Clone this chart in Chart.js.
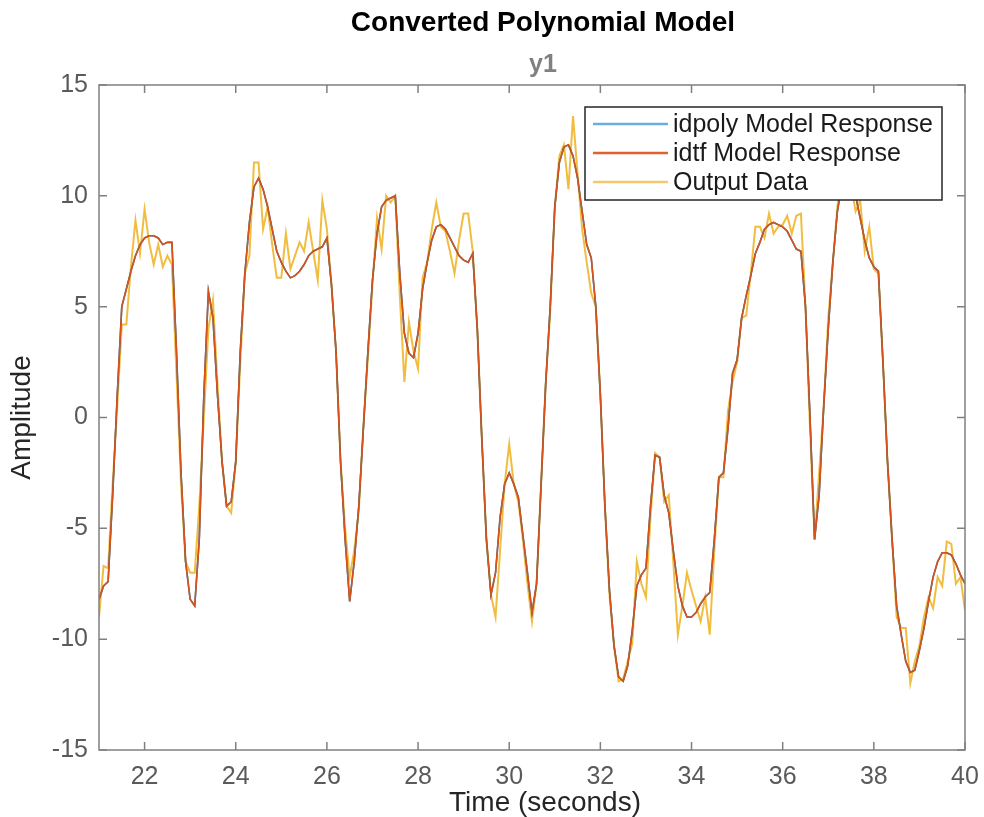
<!DOCTYPE html>
<html>
<head>
<meta charset="utf-8">
<title>Converted Polynomial Model</title>
<script src="https://cdn.jsdelivr.net/npm/chart.js@4.4.1/dist/chart.umd.min.js"></script>
<style>
  html, body { margin: 0; padding: 0; background: #fff; }
</style>
</head>
<body>
<canvas id="compare-chart" width="984" height="817"></canvas>
<script>
// sample grid of the measured data (seconds)
const tStart = 21;
const sampleTime = 0.1;

// measured output, one row per second (21.x ... 39.x), then 40.0
const outputData = [
  -9.0, -6.7, -6.8, -3.0, 0.5, 4.2, 4.2, 6.8, 8.9, 7.4,
  9.4, 7.9, 6.9, 7.8, 6.8, 7.3, 6.9, 2.0, -3.0, -6.5,
  -7.0, -7.0, -4.0, 0.0, 4.0, 5.3, 1.5, -2.0, -4.0, -4.3,
  -2.0, 2.5, 6.5, 7.3, 11.5, 11.5, 8.5, 9.5, 7.8, 6.3,
  6.3, 8.3, 6.7, 7.3, 7.9, 7.5, 8.8, 7.5, 6.2, 9.8,
  8.5, 6.0, 3.0, -2.0, -5.0, -7.2, -6.0, -4.2, -0.4, 2.7,
  6.0, 9.0, 7.6, 10.0, 9.7, 10.0, 5.5, 1.6, 4.3, 3.0,
  2.2, 6.3, 7.0, 8.5, 9.7, 8.6, 8.4, 7.5, 6.5, 8.0,
  9.2, 9.2, 7.5, 4.0, -1.0, -5.5, -8.0, -9.0, -6.0, -3.0,
  -1.2, -3.0, -3.8, -5.5, -7.5, -9.2, -7.5, -3.0, 1.5, 4.8,
  9.5, 11.8, 12.3, 10.3, 13.6, 11.0, 8.5, 7.0, 5.6, 5.0,
  1.0, -4.0, -8.0, -10.3, -11.9, -11.8, -11.0, -10.2, -6.5, -7.5,
  -8.1, -4.5, -1.6, -1.8, -3.8, -3.5, -6.5, -9.8, -8.5, -7.0,
  -7.8, -8.5, -9.2, -8.1, -9.8, -6.0, -2.7, -2.7, 0.3, 1.6,
  2.5, 4.5, 4.6, 6.5, 8.6, 8.6, 8.1, 9.2, 8.3, 8.6,
  8.7, 9.1, 8.3, 9.1, 9.2, 5.0, -0.5, -5.5, -2.5, 0.5,
  4.5, 7.0, 9.5, 11.0, 11.5, 10.5, 9.3, 9.8, 7.5, 8.6,
  6.7, 6.5, 2.5, -2.0, -5.5, -9.0, -9.5, -9.5, -12.0, -11.0,
  -10.3, -9.0, -8.1, -8.6, -7.2, -7.6, -5.6, -5.7, -7.5, -7.2,
  -8.7
];

// simulated model response (idpoly and idtf give the same curve)
const modelResponse = [
  -8.2, -7.6, -7.4, -3.5, 1.0, 5.0, 5.8, 6.6, 7.3, 7.8,
  8.1, 8.2, 8.2, 8.1, 7.8, 7.9, 7.9, 3.0, -2.5, -6.5,
  -8.2, -8.5, -5.5, 1.0, 5.7, 4.5, 1.0, -2.0, -4.0, -3.8,
  -2.0, 3.0, 6.5, 8.8, 10.4, 10.8, 10.3, 9.5, 8.5, 7.5,
  7.0, 6.6, 6.3, 6.4, 6.6, 6.9, 7.3, 7.5, 7.6, 7.7,
  8.1, 6.0, 3.0, -2.0, -5.5, -8.3, -6.5, -4.0, -0.5, 3.0,
  6.2, 8.3, 9.5, 9.8, 9.9, 10.0, 6.5, 3.8, 2.9, 2.7,
  3.8, 5.8, 7.0, 8.0, 8.6, 8.7, 8.5, 8.1, 7.7, 7.3,
  7.1, 7.0, 7.4, 4.0, -1.0, -5.5, -8.0, -7.0, -4.5, -3.0,
  -2.5, -3.0, -3.6, -5.3, -7.0, -8.8, -7.5, -3.0, 1.5, 5.0,
  9.5, 11.5, 12.2, 12.3, 11.8, 10.8, 9.3, 7.8, 7.2, 5.0,
  1.0, -4.0, -7.8, -10.3, -11.7, -11.9, -11.2, -9.6, -7.6, -7.1,
  -6.8, -4.0, -1.7, -1.8, -3.5, -4.3, -6.0, -7.6, -8.5, -9.0,
  -9.0, -8.8, -8.4, -8.1, -7.9, -5.5, -2.7, -2.5, -0.5, 2.0,
  2.6, 4.5, 5.5, 6.4, 7.4, 7.9, 8.5, 8.7, 8.8, 8.7,
  8.6, 8.4, 8.0, 7.6, 7.5, 5.0, 0.0, -5.5, -3.5, 0.5,
  4.0, 7.0, 9.3, 10.5, 11.0, 10.8, 10.0, 9.0, 8.0, 7.2,
  6.8, 6.6, 2.5, -2.0, -5.5, -8.5, -9.8, -11.0, -11.5, -11.4,
  -10.5, -9.5, -8.3, -7.2, -6.5, -6.1, -6.1, -6.2, -6.6, -7.1,
  -7.5
];

const xTicks = [22, 24, 26, 28, 30, 32, 34, 36, 38, 40];
const yTicks = [-15, -10, -5, 0, 5, 10, 15];

const titleText = 'Converted Polynomial Model';
const subtitleText = 'y1';
const xLabel = 'Time (seconds)';
const yLabel = 'Amplitude';

const toPoints = vals => vals.map((v, i) => ({ x: +(tStart + i * sampleTime).toFixed(1), y: v }));

const fontFamily = '"Liberation Sans", Arial, Helvetica, sans-serif';
Chart.defaults.font.family = fontFamily;

// box round the axes with inward ticks, like MATLAB
const matlabAxes = {
  id: 'matlabAxes',
  afterDatasetsDraw(chart) {
    const { ctx, chartArea: a, scales: { x, y } } = chart;
    ctx.save();
    ctx.strokeStyle = '#808080';
    ctx.lineWidth = 1.5;
    ctx.strokeRect(a.left, a.top, a.width, a.height);
    ctx.beginPath();
    x.ticks.forEach(t => {
      const px = x.getPixelForValue(t.value);
      ctx.moveTo(px, a.bottom); ctx.lineTo(px, a.bottom - 8);
      ctx.moveTo(px, a.top); ctx.lineTo(px, a.top + 8);
    });
    y.ticks.forEach(t => {
      const py = y.getPixelForValue(t.value);
      ctx.moveTo(a.left, py); ctx.lineTo(a.left + 8, py);
      ctx.moveTo(a.right, py); ctx.lineTo(a.right - 8, py);
    });
    ctx.stroke();
    ctx.restore();
  }
};

// legend box in the upper right of the axes
const boxLegend = {
  id: 'boxLegend',
  afterDraw(chart) {
    const { ctx, chartArea: a } = chart;
    const w = 357, h = 93;
    const x = a.right - 23 - w, y = a.top + 22;
    ctx.save();
    ctx.fillStyle = '#fff';
    ctx.fillRect(x, y, w, h);
    ctx.strokeStyle = '#262626';
    ctx.lineWidth = 1.5;
    ctx.strokeRect(x, y, w, h);
    ctx.font = '25px ' + fontFamily;
    ctx.textBaseline = 'middle';
    chart.data.datasets.forEach((ds, i) => {
      const ry = y + 17 + i * 29;
      ctx.strokeStyle = ds.legendColor;
      ctx.lineWidth = 2.5;
      ctx.beginPath();
      ctx.moveTo(x + 8, ry);
      ctx.lineTo(x + 83, ry);
      ctx.stroke();
      ctx.fillStyle = '#1a1a1a';
      ctx.fillText(ds.label, x + 88, ry + 1);
    });
    ctx.restore();
  }
};

// title, subtitle and x label, centred the way the MATLAB figure has them
const figureText = {
  id: 'figureText',
  afterDraw(chart) {
    const { ctx, chartArea: a } = chart;
    const cx = (a.left + a.right) / 2 + 11;
    ctx.save();
    ctx.textAlign = 'center';
    ctx.textBaseline = 'middle';
    ctx.fillStyle = '#000';
    ctx.font = 'bold 28px ' + fontFamily;
    ctx.fillText(titleText, cx, a.top - 62);
    ctx.fillStyle = '#808080';
    ctx.font = 'bold 25px ' + fontFamily;
    ctx.fillText(subtitleText, cx, a.top - 20);
    ctx.fillStyle = '#262626';
    ctx.font = '28px ' + fontFamily;
    ctx.fillText(xLabel, cx + 2, a.bottom + 53);
    ctx.restore();
  }
};

new Chart(document.getElementById('compare-chart'), {
  type: 'line',
  data: {
    datasets: [
      {
        label: 'idpoly Model Response',
        data: toPoints(modelResponse),
        borderColor: '#0072BD',
        legendColor: '#6AAEE0',
        borderWidth: 1.6,
        pointRadius: 0,
        order: 2
      },
      {
        label: 'idtf Model Response',
        data: toPoints(modelResponse),
        borderColor: '#D95319',
        legendColor: '#E2602C',
        borderWidth: 1.6,
        pointRadius: 0,
        order: 1
      },
      {
        label: 'Output Data',
        data: toPoints(outputData),
        borderColor: 'rgba(237,177,32,0.85)',
        legendColor: '#F4C96E',
        borderWidth: 2,
        pointRadius: 0,
        order: 3
      }
    ]
  },
  options: {
    responsive: false,
    animation: false,
    layout: { padding: { left: 0, right: 19, top: 85, bottom: 0 } },
    plugins: {
      legend: { display: false },
      tooltip: { enabled: false }
    },
    scales: {
      x: {
        type: 'linear',
        min: 21,
        max: 40,
        afterBuildTicks: s => { s.ticks = xTicks.map(v => ({ value: v })); },
        afterFit: s => { s.height = 67; s.paddingLeft = 0; s.paddingRight = 0; },
        grid: { display: false, drawTicks: false },
        border: { display: false },
        ticks: { color: '#5a5a5a', font: { size: 25 }, padding: 12, maxRotation: 0, autoSkip: false }
      },
      y: {
        type: 'linear',
        min: -15,
        max: 15,
        afterBuildTicks: s => { s.ticks = yTicks.map(v => ({ value: v })); },
        afterFit: s => { s.width = 99; s.paddingTop = 0; s.paddingBottom = 0; },
        grid: { display: false, drawTicks: false },
        border: { display: false },
        ticks: { color: '#5a5a5a', font: { size: 25 }, padding: 11, autoSkip: false },
        title: { display: true, text: yLabel, color: '#262626', font: { size: 28 }, padding: { top: 5, bottom: 0 } }
      }
    }
  },
  plugins: [matlabAxes, boxLegend, figureText]
});
</script>
</body>
</html>
